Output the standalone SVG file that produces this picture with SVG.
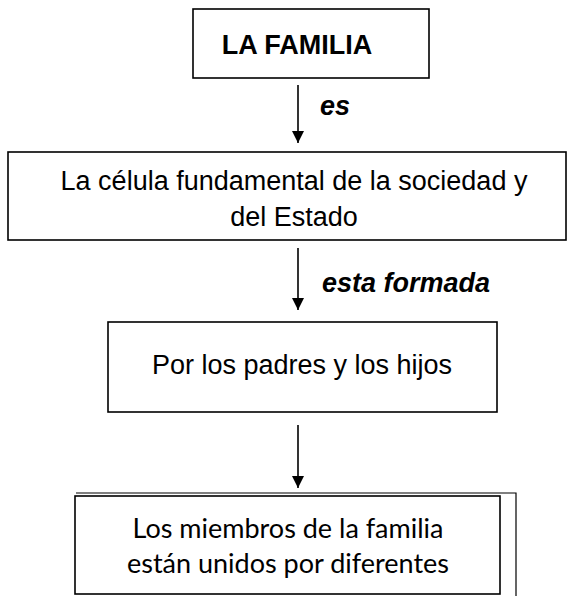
<svg xmlns="http://www.w3.org/2000/svg" width="576" height="596" viewBox="0 0 576 596">
<style>
.box{fill:#fff;stroke:#000;stroke-width:1.6}
.t{font-family:"Liberation Sans",Arial,sans-serif;font-size:27px;fill:#000;text-anchor:middle}
.b{font-weight:bold}
.lbl{font-family:"Liberation Sans",Arial,sans-serif;font-size:27px;font-weight:bold;font-style:italic;fill:#000}
.c{font-family:"Lato","Open Sans",sans-serif;font-size:27px;fill:#000;text-anchor:middle}
.ln{stroke:#000;stroke-width:1.6;fill:none}
.thin{stroke:#000;stroke-width:1.2;fill:none}
</style>
<defs>
<marker id="arr" viewBox="0 0 12 12" refX="12" refY="6" markerWidth="12" markerHeight="12" markerUnits="userSpaceOnUse" orient="auto">
<path d="M0,0 L12,6 L0,12 Z" fill="#000"/>
</marker>
</defs>
<g id="n1">
<rect class="box" x="193" y="9" width="236" height="69"/>
<text class="t b" x="297" y="54">LA FAMILIA</text>
</g>
<g id="n2">
<rect class="box" x="8" y="152" width="558" height="88" stroke-width="2"/>
<text class="t" x="294" y="190">La célula fundamental de la sociedad y</text>
<text class="t" x="294" y="226">del Estado</text>
</g>
<g id="n3">
<rect class="box" x="108" y="322" width="389" height="90"/>
<text class="t" x="302" y="374">Por los padres y los hijos</text>
</g>
<g id="n4">
<polyline class="thin" points="76,493 516,493 516,597"/>
<rect class="box" x="75" y="496" width="425" height="98"/>
<text class="c" x="288" y="538">Los miembros de la familia</text>
<text class="c" x="288" y="573">están unidos por diferentes</text>
</g>
<g id="connectors">
<line class="ln" x1="298" y1="85" x2="298" y2="143" marker-end="url(#arr)"/>
<text class="lbl" x="320" y="115">es</text>
<line class="ln" x1="298" y1="248" x2="298" y2="310" marker-end="url(#arr)"/>
<text class="lbl" x="322" y="292">esta formada</text>
<line class="ln" x1="298" y1="425" x2="298" y2="488" marker-end="url(#arr)"/>
</g>
</svg>
